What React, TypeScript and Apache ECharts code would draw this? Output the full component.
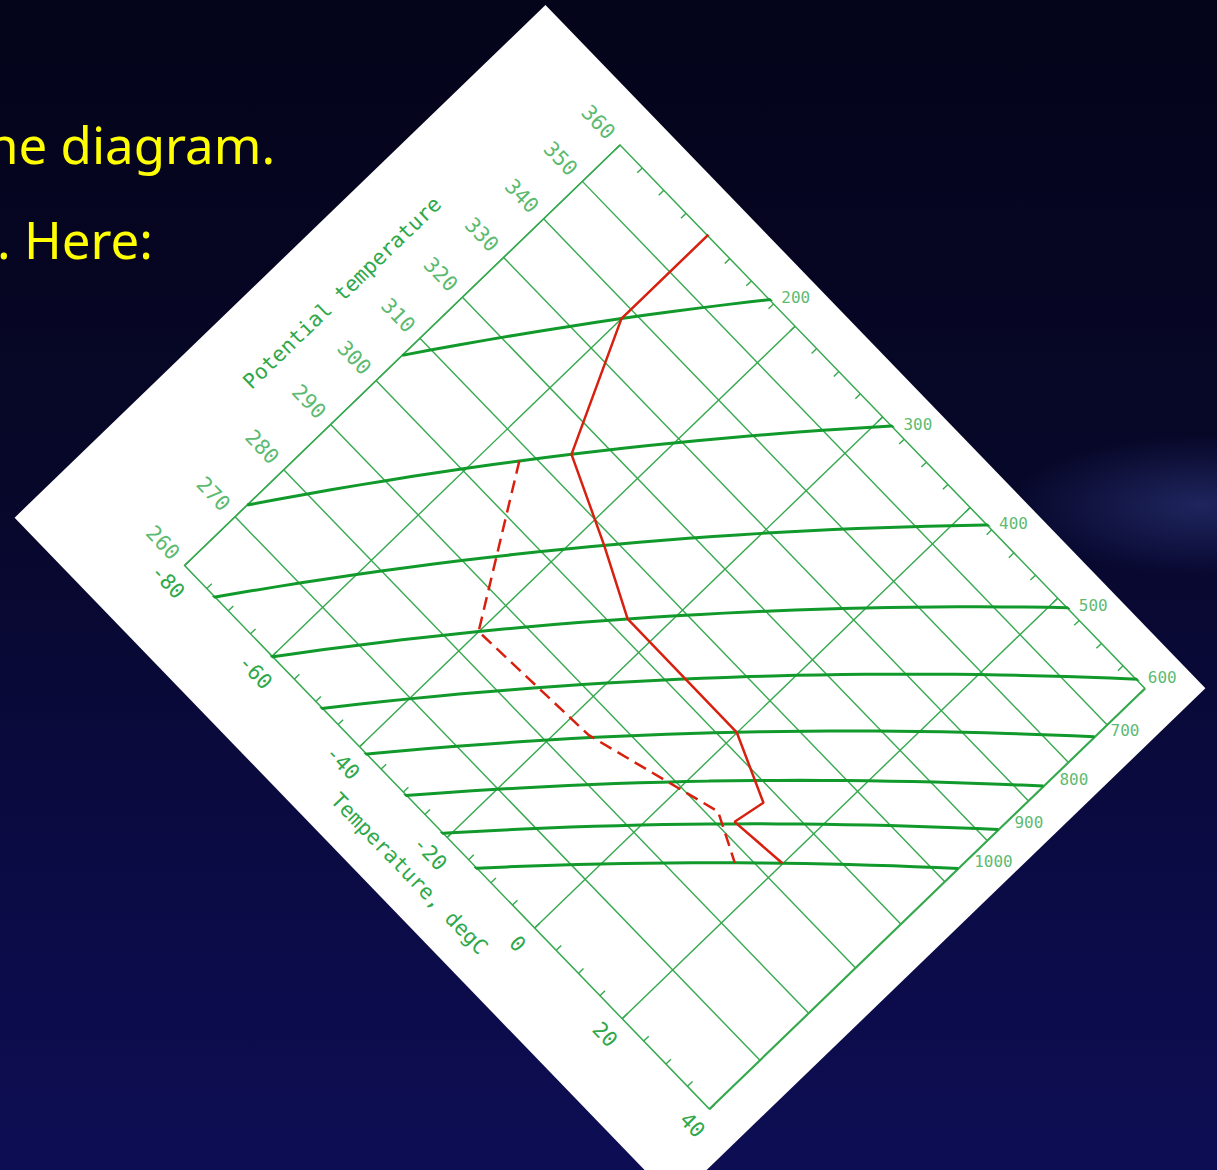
import React, { useEffect, useRef } from "react";
import * as echarts from "echarts";

// ---- data ----
const tempRange = [-80, 40];
const thetaRange = [260, 360];
const tempLabelStep = 20;
const isentropes = [270, 280, 290, 300, 310, 320, 330, 340, 350];
const thetaLabels = [260, 270, 280, 290, 300, 310, 320, 330, 340, 350, 360];
const isobars = [200, 300, 400, 500, 600, 700, 800, 900, 1000];
// environmental temperature sounding (hPa, degC)
const soundingP = [150, 200, 300, 400, 500, 700, 850, 895, 1000];
const soundingT = [-60, -60, -50, -36, -25, 0, 11, 10, 20];
// dew point sounding (hPa, degC)
const dewP = [300, 500, 695, 870, 1000];
const dewT = [-55, -40, -16, 7, 14.7];
const slideText = ["ne diagram.", ". Here:"];

// ---- styling / geometry ----
const KAPPA = 0.2857;
const thetaOf = (t: number, p: number) => (t + 273.15) * Math.pow(1000 / p, KAPPA);
const GRID_GREEN = "#36a94f";
const TEXT_GREEN = "#2fa84a";
const ISOBAR_GREEN = "#119a2b";
const RED = "#d8200f";
const MONO = "'DejaVu Sans Mono', 'Liberation Mono', monospace";
const FRAME_W = 950;
const FRAME_H = 738;
const ROT = 46;

export default function App() {
  const bgRef = useRef<HTMLDivElement>(null);
  const chartRef = useRef<HTMLDivElement>(null);

  useEffect(() => {
    const bg = echarts.init(bgRef.current!, null, { renderer: "svg", width: 1217, height: 1170 });
    const fs = 51;
    bg.setOption({
      animation: false,
      graphic: [
        {
          type: "rect",
          silent: true,
          shape: { x: 0, y: 0, width: 1217, height: 1170 },
          style: {
            fill: new echarts.graphic.LinearGradient(0, 0, 0, 1, [
              { offset: 0, color: "#04041a" },
              { offset: 0.4, color: "#070729" },
              { offset: 0.75, color: "#0b0b45" },
              { offset: 1, color: "#0d0d54" },
            ]),
          },
        },
        {
          type: "ellipse",
          silent: true,
          shape: { cx: 1200, cy: 505, rx: 190, ry: 70 },
          style: {
            fill: new echarts.graphic.RadialGradient(0.5, 0.5, 0.5, [
              { offset: 0, color: "rgba(80,100,200,0.32)" },
              { offset: 1, color: "rgba(80,100,200,0)" },
            ]),
          },
        },
        {
          type: "text",
          x: -13,
          y: 162 - 0.36 * fs,
          style: {
            text: slideText[0],
            fill: "#ffff00",
            font: `${fs}px 'Comic Sans MS', 'Noto Sans', sans-serif`,
            verticalAlign: "middle",
          },
        },
        {
          type: "text",
          x: -3,
          y: 257 - 0.36 * fs,
          style: {
            text: slideText[1],
            fill: "#ffff00",
            font: `${fs}px 'Comic Sans MS', 'Noto Sans', sans-serif`,
            verticalAlign: "middle",
          },
        },
      ],
    });

    const chart = echarts.init(chartRef.current!, null, { renderer: "svg", width: FRAME_W, height: FRAME_H });
    const [tMin, tMax] = tempRange;
    const [thMin, thMax] = thetaRange;

    const sampleT: number[] = [];
    for (let t = tMin; t <= tMax; t += 2.5) sampleT.push(t);

    const series: any[] = [];
    isentropes.forEach((th) =>
      series.push({
        type: "line",
        data: [
          [tMin, th],
          [tMax, th],
        ],
        symbol: "none",
        silent: true,
        lineStyle: { color: GRID_GREEN, width: 1.4 },
        z: 2,
      })
    );
    isobars.forEach((p) =>
      series.push({
        type: "line",
        data: sampleT.map((t) => [t, thetaOf(t, p)]),
        symbol: "none",
        silent: true,
        clip: true,
        lineStyle: { color: ISOBAR_GREEN, width: 3 },
        z: 3,
      })
    );
    // isobar labels at their right ends
    const ends = isobars.map((p) => {
      const thAtMax = thetaOf(tMax, p);
      if (thAtMax <= thMax) {
        return { value: [tMax, thAtMax, p], label: { position: [6.8, -15.7] } };
      }
      const tEnd = thMax * Math.pow(p / 1000, KAPPA) - 273.15;
      return { value: [tEnd, thMax, p], label: { position: [7.6, -9.3] } };
    });
    series.push({
      type: "scatter",
      data: ends,
      symbolSize: 1,
      itemStyle: { color: "rgba(0,0,0,0)" },
      silent: true,
      clip: false,
      label: {
        show: true,
        rotate: ROT,
        align: "left",
        verticalAlign: "middle",
        formatter: (d: any) => String(d.value[2]),
        color: TEXT_GREEN,
        fontSize: 16,
        fontFamily: MONO,
      },
      z: 4,
    });
    // potential temperature labels
    series.push({
      type: "scatter",
      data: thetaLabels.map((th) => [tMin, th]),
      symbolSize: 1,
      itemStyle: { color: "rgba(0,0,0,0)" },
      silent: true,
      clip: false,
      label: {
        show: true,
        position: "left",
        distance: 12,
        formatter: (d: any) => String(d.value[1]),
        color: TEXT_GREEN,
        fontSize: 21,
        fontFamily: MONO,
      },
      z: 4,
    });
    series.push({
      type: "line",
      data: soundingP.map((p, i) => [soundingT[i], thetaOf(soundingT[i], p)]),
      symbol: "none",
      silent: true,
      clip: true,
      lineStyle: { color: RED, width: 2.5 },
      z: 6,
    });
    series.push({
      type: "line",
      data: dewP.map((p, i) => [dewT[i], thetaOf(dewT[i], p)]),
      symbol: "none",
      silent: true,
      clip: true,
      lineStyle: { color: RED, width: 2.5, type: [13, 7] },
      z: 6,
    });

    const commonX = {
      type: "value",
      min: tMin,
      max: tMax,
      interval: tempLabelStep,
      axisLine: { show: false },
    };

    chart.setOption({
      animation: false,
      backgroundColor: "transparent",
      grid: {
        left: 152.5,
        top: 43.6,
        width: 755.3,
        height: 605.4,
        show: true,
        borderColor: GRID_GREEN,
        borderWidth: 1.5,
        backgroundColor: "transparent",
        containLabel: false,
        outerBoundsMode: "none",
      },
      xAxis: [
        {
          ...commonX,
          position: "bottom",
          axisTick: { show: true, inside: true, length: 7, lineStyle: { color: GRID_GREEN, width: 1.4 } },
          minorTick: { show: true, splitNumber: 4, length: 7, lineStyle: { color: GRID_GREEN, width: 1.4 } },
          splitLine: { show: true, lineStyle: { color: GRID_GREEN, width: 1.4 } },
          minorSplitLine: { show: false },
          axisLabel: {
            show: true,
            margin: 13,
            color: TEXT_GREEN,
            fontSize: 21,
            fontFamily: MONO,
            showMinLabel: true,
            showMaxLabel: true,
          },
          name: "Temperature, degC",
          nameLocation: "middle",
          nameGap: 42,
          nameMoveOverlap: false,
          nameTextStyle: { color: TEXT_GREEN, fontSize: 21, fontFamily: MONO },
        },
        {
          ...commonX,
          position: "top",
          axisTick: { show: true, inside: true, length: 7, lineStyle: { color: GRID_GREEN, width: 1.4 } },
          minorTick: { show: true, splitNumber: 4, length: 7, lineStyle: { color: GRID_GREEN, width: 1.4 } },
          splitLine: { show: false },
          axisLabel: { show: false },
        },
      ],
      yAxis: {
        type: "log",
        logBase: 10,
        min: thMin,
        max: thMax,
        axisLine: { show: false },
        axisTick: { show: false },
        axisLabel: { show: false },
        splitLine: { show: false },
        name: "Potential temperature",
        nameLocation: "middle",
        nameGap: 76,
        nameMoveOverlap: false,
        nameTextStyle: { color: TEXT_GREEN, fontSize: 21, fontFamily: MONO },
      },
      series,
    });

    return () => {
      chart.dispose();
      bg.dispose();
    };
  }, []);

  return (
    <div
      style={{
        position: "fixed",
        left: 0,
        top: 0,
        width: 1217,
        height: 1170,
        overflow: "hidden",
        background: "#05051c",
      }}
    >
      <div ref={bgRef} style={{ position: "absolute", left: 0, top: 0, width: 1217, height: 1170 }} />
      <div
        ref={chartRef}
        style={{
          position: "absolute",
          left: 134.6,
          top: 233.7,
          width: FRAME_W,
          height: FRAME_H,
          background: "#ffffff",
          transform: `rotate(${ROT}deg)`,
          transformOrigin: "50% 50%",
        }}
      />
    </div>
  );
}
